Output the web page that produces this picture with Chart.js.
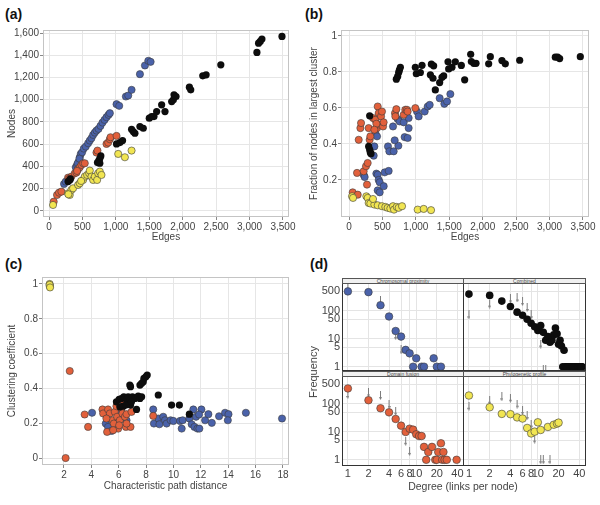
<!DOCTYPE html>
<html>
<head>
<meta charset="utf-8">
<script src="https://cdn.jsdelivr.net/npm/chart.js@4.4.1/dist/chart.umd.min.js"></script>
<style>
body { margin: 0; background: #fff; }
#wrap { position: relative; width: 600px; height: 505px; overflow: hidden; font-family: 'Liberation Sans Narrow', 'Liberation Sans', Arial, sans-serif; color: #444; }
canvas { position: absolute; }
.lbl { position: absolute; font: bold 14px 'Liberation Sans', Arial, sans-serif; color: #111; }
.strip { position: absolute; height: 6px; box-sizing: border-box; border: 1px solid #555; background: #f0f0f0; font-size: 5px; line-height: 4px; text-align: center; color: #444; white-space: nowrap; overflow: hidden; }
.axt { position: absolute; color: #444; white-space: nowrap; }
</style>
</head>
<body>
<div id="wrap">
  <div class="lbl" style="left:5px;top:6px">(a)</div>
  <div class="lbl" style="left:305px;top:6px">(b)</div>
  <div class="lbl" style="left:5px;top:256px">(c)</div>
  <div class="lbl" style="left:310px;top:256px">(d)</div>

  <canvas id="pa" width="300" height="250" style="left:0;top:0"></canvas>
  <canvas id="pb" width="300" height="250" style="left:300px;top:0"></canvas>
  <canvas id="pc" width="300" height="255" style="left:0;top:250px"></canvas>

  <canvas id="d1" width="164" height="88" style="left:300px;top:283px"></canvas>
  <canvas id="d2" width="123" height="88" style="left:463px;top:283px"></canvas>
  <canvas id="d3" width="164" height="129" style="left:300px;top:376px"></canvas>
  <canvas id="d4" width="123" height="129" style="left:463px;top:376px"></canvas>

  <div class="strip" style="left:342px;top:278px;width:122px">Chromosomal proximity</div>
  <div class="strip" style="left:463px;top:278px;width:123px">Combined</div>
  <div class="strip" style="left:342px;top:371px;width:122px">Domain fusion</div>
  <div class="strip" style="left:463px;top:371px;width:123px">Phylogenetic profile</div>

  <div class="axt" style="left:313px;top:372px;font-size:11px;transform:translate(-50%,-50%) rotate(-90deg)">Frequency</div>
  <div class="axt" style="left:463px;top:486px;font-size:10.5px;transform:translate(-50%,-50%)">Degree (links per node)</div>
</div>
<script>
// (a) nodes vs edges
var aBlackX = [285,310,320,725,745,760,775,760,1010,1060,1100,1235,1260,1285,1360,1410,1500,1535,1570,1610,1685,1735,1835,1860,1870,1900,2100,2120,2300,2350,2570,3110,3135,3160,3185,3485]
var aBlackY = [264,279,288,435,453,471,495,429,603,615,633,735,714,699,759,744,834,849,849,894,954,894,984,999,1044,1029,1113,1089,1215,1224,1314,1425,1509,1524,1545,1569]
var aBlueX = [225,250,400,420,445,460,475,495,520,550,585,610,635,660,685,710,740,770,800,830,860,890,910,1010,1050,1150,1185,1235,1360,1435,1485,1520,430,455]
var aBlueY = [243,264,393,414,444,483,513,528,561,579,609,633,654,684,705,723,738,765,795,819,843,864,879,960,945,1029,1038,1089,1230,1308,1350,1341,430,470]
var aOrangeX = [70,120,150,185,285,335,385,410,435,460,485,510,535,710,725,860,885,910,920,1010,300,420]
var aOrangeY = [84,144,165,174,300,309,339,345,375,393,414,429,429,525,543,603,615,645,663,675,290,360]
var aYellowX = [60,285,310,335,360,435,460,510,535,570,600,610,635,660,685,720,735,760,785,1035,1135,1235,290,480]
var aYellowY = [54,159,144,189,204,234,249,279,309,324,339,363,309,279,309,279,339,354,324,513,483,543,150,270]
var aTicksX = [0,500,1000,1500,2000,2500,3000,3500]
var aTicksY = [0,200,400,600,800,1000,1200,1400,1600]

// (b) fraction of nodes in largest cluster vs edges
var bBlackX = [309,294,309,319,329,708,728,743,753,768,992,1007,1067,1092,1232,1266,1217,1256,1291,1356,1391,1416,1481,1491,1540,1590,1680,1730,1820,1830,1865,1900,2089,2114,2288,2338,2553,3086,3121,3151,3460]
var bBlackY = [0.556,0.386,0.368,0.353,0.346,0.76,0.775,0.797,0.81,0.826,0.826,0.79,0.797,0.837,0.843,0.834,0.784,0.765,0.70,0.741,0.77,0.778,0.856,0.817,0.826,0.856,0.836,0.756,0.898,0.858,0.848,0.848,0.845,0.885,0.863,0.845,0.865,0.882,0.882,0.874,0.885]
var bOrangeX = [55,130,120,145,170,180,219,254,279,269,294,309,319,359,394,419,429,444,459,479,493,509,518,409,688,708,693,818,842,867,877,992,379]
var bOrangeY = [0.131,0.118,0.239,0.423,0.488,0.516,0.248,0.276,0.294,0.174,0.488,0.423,0.442,0.544,0.534,0.488,0.608,0.571,0.507,0.553,0.58,0.497,0.52,0.512,0.571,0.593,0.553,0.562,0.59,0.59,0.58,0.599,0.479]
var bBlueX = [219,234,394,379,369,419,409,429,444,459,429,459,534,593,519,583,603,668,738,658,683,728,758,818,832,877,892,892,1017,1042,1132,1177,1207,1356,1426,1466,1516]
var bBlueY = [0.229,0.216,0.46,0.386,0.335,0.442,0.235,0.229,0.2,0.187,0.142,0.131,0.242,0.25,0.165,0.386,0.359,0.359,0.39,0.497,0.42,0.538,0.525,0.52,0.438,0.433,0.488,0.544,0.58,0.553,0.58,0.608,0.617,0.654,0.623,0.636,0.677]
var bYellowX = [45,60,259,279,294,319,379,429,493,543,578,618,658,673,713,743,793,1027,1117,1227,359]
var bYellowY = [0.109,0.1,0.109,0.1,0.072,0.069,0.063,0.059,0.054,0.05,0.045,0.041,0.054,0.035,0.05,0.045,0.054,0.035,0.039,0.032,0.094]
var bTicksY = [0.2,0.4,0.6,0.8,1]

// (c) clustering coefficient vs path distance
var cYellowX = [0.95,0.96,0.97,0.95,0.98]
var cYellowY = [1.0,0.99,0.985,0.995,0.98]
var cOrangeX = [2.42,2.12,3.51,3.76,4.81,4.86,5.22,5.15,5.35,5.54,5.64,5.71,5.83,5.88,5.96,6.08,6.20,6.27,6.37,6.45,6.52,6.57,6.86,6.93,6.57,8.52,5.10,5.59,6.03]
var cOrangeY = [0.5,0.0,0.25,0.179,0.279,0.256,0.279,0.15,0.256,0.217,0.198,0.265,0.298,0.237,0.169,0.217,0.285,0.256,0.317,0.237,0.179,0.252,0.179,0.265,0.198,0.242,0.227,0.16,0.188]
var cBlueX = [4.05,5.10,5.05,5.22,5.47,5.96,6.57,8.52,8.57,8.89,8.97,9.25,9.38,9.50,9.79,9.99,10.48,10.60,10.67,11.16,11.33,11.45,11.53,11.65,11.75,11.89,12.04,12.31,12.55,12.80,13.33,13.77,14.02,13.97,15.29,17.93,11.87]
var cBlueY = [0.26,0.24,0.198,0.179,0.156,0.252,0.217,0.279,0.198,0.227,0.194,0.237,0.217,0.198,0.217,0.213,0.213,0.169,0.217,0.227,0.194,0.279,0.179,0.237,0.169,0.169,0.279,0.217,0.252,0.202,0.24,0.26,0.252,0.217,0.26,0.227,0.25]
var cBlackX = [5.83,6.03,6.2,6.37,6.57,6.69,6.81,6.86,6.86,7.0,7.18,7.3,7.42,7.55,7.67,7.55,7.67,7.79,7.84,7.98,8.08,8.89,9.86,10.43,11.16,6.08,6.32,6.52,6.93]
var cBlackY = [0.323,0.337,0.342,0.352,0.337,0.352,0.419,0.41,0.304,0.352,0.342,0.279,0.356,0.342,0.352,0.419,0.429,0.438,0.458,0.467,0.477,0.362,0.304,0.304,0.252,0.294,0.298,0.304,0.323]
var cTicksX = [2,4,6,8,10,12,14,16,18]
var cTicksY = [0,0.2,0.4,0.6,0.8,1]

// (d) degree distributions, with the grey arrows
var dChromDeg = [1,2,3,4,5,6,7,8,10,9,12,13,18,20,23]
var dChromFreq = [500,470,160,63,19,12,4,3,2,1,1,1,2,1,1]
var dChromArrowDeg = [1,3,5,6]
var dChromArrowFreq = [700,230,13,4]
var dCombDeg = [1,2,3,4,5,6,7,8,9,10,11,12,13,14,15,16,17,18,19,20,21,22,24,23,25,26,27,28,29,30,31,32,33,34,35,36,37,38,39,40,41,42,43,44]
var dCombFreq = [400,359,224,143,90,70,50,36,27,20,30,17,8.9,12,7.5,8.9,13.8,24.5,15,6.4,8.9,5.5,3.9,1,1,1,1,1,1,1,1,1,1,1,1,1,1,1,1,1,1,1,1,1]
var dCombArrowDeg = [1,2,4,5,6,7,8,11,12,13]
var dCombArrowFreq = [72,175,270,290,217,133,72,6.5,0.8,0.8]
var dDomDeg = [1,2,3,4,5,6,7,8,9,10,11,12,13,14,15,17,19,20,21,23,24,25,26,28,39]
var dDomFreq = [359,136,70,50,29,16.7,9.9,13,12,8.2,7.1,7.1,2.9,1,1.9,2.9,1,1,1.9,3.9,1,1.9,1,1,1]
var dDomArrowDeg = [1,2,3,4,5,7,8]
var dDomArrowFreq = [218,250,200,95,55,4.6,2.0]
var dPhyDeg = [1,2,3,4,5,6,7,8,9,10,11,14,17,19,20]
var dPhyFreq = [200,76,44,43,33,30,13.8,8.8,10.2,22,11.7,15,18,19.7,21.4]
var dPhyArrowDeg = [1,2,3,4,5,6,7,8,9,11,12,15]
var dPhyArrowFreq = [83,136,180,160,98,58,38,19,5.5,1,1,1]
var dTicksX = [1,2,4,6,8,10,20,40]
var dTicksY = [1,5,10,50,100,500]

var FONT = "'Liberation Sans Narrow','Liberation Sans',Arial,sans-serif"
Chart.defaults.font.family = FONT
Chart.defaults.color = '#444'

var BLUE = '#4a62aa', ORANGE = '#e2603b', YELLOW = '#f1e552', BLACK = '#0d0d0d'

function pts(xs, ys) {
    return xs.map(function (x, i) { return {x: x, y: ys[i]} })
}

function dots(xs, ys, color, r) {
    return {
        data: pts(xs, ys),
        backgroundColor: color,
        borderColor: color === BLACK ? BLACK : '#3a3a3a',
        borderWidth: color === BLACK ? 0 : 0.6,
        pointRadius: r || 3.6
    }
}

// small grey down arrow used in (d)
var arrowImg = document.createElement('canvas')
arrowImg.width = 3
arrowImg.height = 9
;(function () {
    var c = arrowImg.getContext('2d')
    c.strokeStyle = '#7c7c7c'
    c.fillStyle = '#7c7c7c'
    c.lineWidth = 1
    c.beginPath(); c.moveTo(1.5, 0); c.lineTo(1.5, 7); c.stroke()
    c.beginPath(); c.moveTo(0, 6); c.lineTo(3, 6); c.lineTo(1.5, 9); c.closePath(); c.fill()
})()

function arrows(xs, ys) {
    return { data: pts(xs, ys), pointStyle: arrowImg, pointRadius: 3, backgroundColor: '#7c7c7c', borderWidth: 0 }
}

var frame = {
    id: 'frame',
    afterDraw: function (chart, args, o) {
        var a = chart.chartArea, ctx = chart.ctx
        ctx.save()
        ctx.strokeStyle = o.color
        ctx.lineWidth = 1
        ctx.strokeRect(Math.round(a.left) + 0.5, Math.round(a.top) + 0.5, Math.round(a.right - a.left) - 1, Math.round(a.bottom - a.top) - 1)
        ctx.restore()
    }
}

function axis(o) {
    var tl = o.tickLen === undefined ? 3 : o.tickLen
    return {
        type: o.type || 'linear',
        min: o.min,
        max: o.max,
        afterBuildTicks: function (s) { s.ticks = o.ticks.map(function (v) { return {value: v} }) },
        afterFit: function (s) {
            if (o.w !== undefined) s.width = o.w
            if (o.h !== undefined) s.height = o.h
            // keep the plot box where the layout puts it
            s.paddingTop = 0; s.paddingBottom = 0; s.paddingLeft = 0; s.paddingRight = 0
        },
        grid: { color: o.gridColor || '#e6e6e6', tickColor: '#888', tickLength: tl, drawTicks: tl > 0 },
        border: { display: false },
        ticks: {
            display: o.show !== false, autoSkip: false, maxRotation: 0, padding: o.pad === undefined ? 1 : o.pad,
            font: { size: o.fs || 10 }, color: '#444',
            callback: o.fmt || function (v) { return String(v) }
        },
        title: o.title ? { display: true, text: o.title, font: { size: 10 }, color: '#444', padding: o.tpad } : { display: false }
    }
}

function scatter(id, datasets, x, y, pad, frameColor) {
    return new Chart(document.getElementById(id), {
        type: 'scatter',
        data: { datasets: datasets },
        options: {
            responsive: false, animation: false, events: [],
            layout: { padding: pad, autoPadding: false },
            plugins: { legend: { display: false }, tooltip: { enabled: false }, frame: { color: frameColor } },
            scales: { x: x, y: y }
        },
        plugins: [frame]
    })
}

var commas = function (v) { return v.toLocaleString('en-US') }

scatter('pa', [
    dots(aBlackX, aBlackY, BLACK),
    dots(aYellowX, aYellowY, YELLOW),
    dots(aOrangeX, aOrangeY, ORANGE),
    dots(aBlueX, aBlueY, BLUE)
],
    axis({ min: -90, max: 3590, ticks: aTicksX, h: 33, fmt: commas, title: 'Edges', tpad: { top: 0, bottom: 7 } }),
    axis({ min: -54, max: 1627, ticks: aTicksY, w: 43, fmt: commas, title: 'Nodes', tpad: { top: 6, bottom: 0 } }),
    { left: 0, top: 30, right: 11, bottom: 0 }, '#c4c4c4')

scatter('pb', [
    dots(bBlackX, bBlackY, BLACK),
    dots(bYellowX, bYellowY, YELLOW),
    dots(bOrangeX, bOrangeY, ORANGE),
    dots(bBlueX, bBlueY, BLUE)
],
    axis({ min: -120, max: 3590, ticks: aTicksX, h: 33, fmt: commas, title: 'Edges', tpad: { top: 0, bottom: 7 } }),
    axis({ min: -0.006, max: 1.033, ticks: bTicksY, w: 41, title: 'Fraction of nodes in largest cluster', tpad: { top: 8, bottom: 0 } }),
    { left: 0, top: 30, right: 11, bottom: 0 }, '#c4c4c4')

scatter('pc', [
    dots(cBlackX, cBlackY, BLACK),
    dots(cYellowX, cYellowY, YELLOW),
    dots(cOrangeX, cOrangeY, ORANGE),
    dots(cBlueX, cBlueY, BLUE)
],
    axis({ min: 0.393, max: 18.44, ticks: cTicksX, h: 40, title: 'Characteristic path distance', tpad: { top: 0, bottom: 13 } }),
    axis({ min: -0.04, max: 1.04, ticks: cTicksY, w: 42, title: 'Clustering coefficient', tpad: { top: 6, bottom: 0 } }),
    { left: 0, top: 27, right: 11, bottom: 0 }, '#c4c4c4')

function degX(showLabels) {
    return axis({ type: 'logarithmic', min: 0.82, max: 50, ticks: dTicksX, h: showLabels ? 39 : 0, show: showLabels, tickLen: 0, pad: 1, fs: 11, gridColor: '#e4e4e4' })
}
function freqY(showLabels, min) {
    return axis({ type: 'logarithmic', min: min, max: 1000, ticks: dTicksY, w: showLabels ? 42 : 0, show: showLabels, tickLen: 0, pad: 2, fs: 11, gridColor: '#e4e4e4' })
}
var noPad = { left: 0, top: 0, right: 0, bottom: 0 }

scatter('d1', [dots(dChromDeg, dChromFreq, BLUE, 3.8), arrows(dChromArrowDeg, dChromArrowFreq)], degX(false), freqY(true, 0.7), noPad, '#333')
scatter('d2', [dots(dCombDeg, dCombFreq, BLACK, 3.8), arrows(dCombArrowDeg, dCombArrowFreq)], degX(false), freqY(false, 0.7), noPad, '#333')
scatter('d3', [dots(dDomDeg, dDomFreq, ORANGE, 3.8), arrows(dDomArrowDeg, dDomArrowFreq)], degX(true), freqY(true, 0.62), noPad, '#333')
scatter('d4', [dots(dPhyDeg, dPhyFreq, YELLOW, 3.8), arrows(dPhyArrowDeg, dPhyArrowFreq)], degX(true), freqY(false, 0.62), noPad, '#333')
</script>
</body>
</html>
